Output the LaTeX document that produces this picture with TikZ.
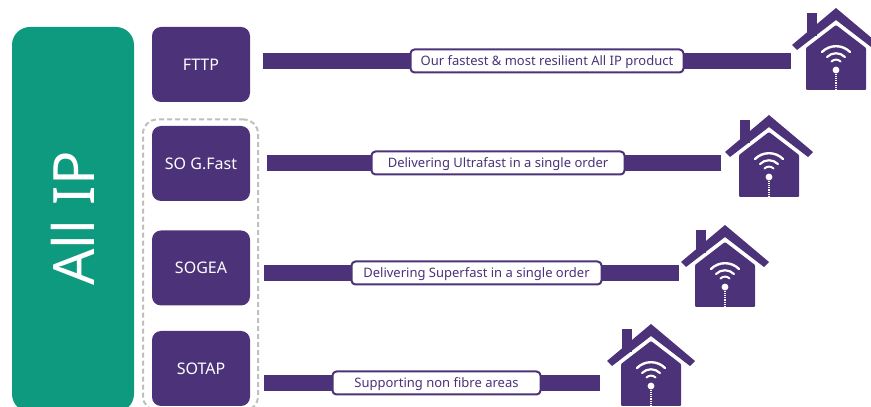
\documentclass[tikz,border=0pt]{standalone}
\usepackage{fontspec}
\setmainfont{Noto Sans}
\definecolor{bandgreen}{HTML}{0E9A7E}
\definecolor{bandpurple}{HTML}{4C3278}
\tikzset{
  prodbox/.style={fill=bandpurple,text=white,rounded corners=9,minimum width=98,minimum height=75,inner sep=0,text height=12,text depth=0,font=\fontsize{16}{16}\selectfont},
  tagbox/.style={draw=bandpurple,fill=white,line width=2pt,rounded corners=4,inner sep=0,text=bandpurple,minimum height=23,text height=9,text depth=0,font=\fontsize{13}{13}\selectfont},
  barline/.style={bandpurple,line width=16},
  homeicon/.pic={
    \fill[bandpurple] (-29,-28) rectangle (-19,-5);
    \fill[bandpurple] (-44,-37) -- (0,0) -- (44,-37) -- (39,-42) -- (0,-12) -- (-39,-42) -- cycle;
    \fill[bandpurple,rounded corners=1] (-30,-40) -- (0,-17) -- (30,-40) -- (30,-82) -- (-30,-82) -- cycle;
    \draw[white,line width=2.4,line cap=round] (-14,-44) arc (135:45:19.8);
    \draw[white,line width=2.2,line cap=round] (-9,-49) arc (135:45:12.7);
    \draw[white,line width=2,line cap=round] (-4.5,-53.5) arc (135:45:6.4);
    \fill[white] (0,-62) circle (3.4);
    \draw[white,line width=1.1,densely dotted] (0,-64) -- (0,-82);
  }
}
\begin{document}
\begin{tikzpicture}[x=1pt,y=1pt]
  \useasboundingbox (0,0) rectangle (871,407);
  \clip (0,0) rectangle (871,407);

  % left band
  \node (allip) at (73,187.5) [fill=bandgreen,rounded corners=18,minimum width=122,minimum height=385,inner sep=0] {};
  \node (alliptext) at (73,188.5) [rotate=90,text=white,font=\fontsize{57}{57}\selectfont] {All IP};
  \node (sogroup) at (200.5,142) [draw=black!25,dash pattern=on 5pt off 3pt,line width=2pt,rounded corners=14,minimum width=115,minimum height=291,inner sep=0] {};

  % products
  \node[prodbox] (fttp) at (201,342.5) {FTTP};
  \node[prodbox] (gfast) at (201,243.5) {SO G.Fast};
  \node[prodbox] (sogea) at (201,139) {SOGEA};
  \node[prodbox] (sotap) at (201,38.5) {SOTAP};

  % ends of the bars
  \coordinate (fttpend) at (791,346);
  \coordinate (gfastend) at (721,244);
  \coordinate (sogeaend) at (679,134);
  \coordinate (sotapend) at (600,24);

  \draw[barline] ([xshift=13]fttp.east |- fttpend) -- (fttpend);
  \draw[barline] ([xshift=17]gfast.east |- gfastend) -- (gfastend);
  \draw[barline] ([xshift=14]sogea.east |- sogeaend) -- (sogeaend);
  \draw[barline] ([xshift=14]sotap.east |- sotapend) -- (sotapend);

  \node[tagbox,minimum width=273] (fttptag) at (547,346) {Our fastest \& most resilient All IP product};
  \node[tagbox,minimum width=253] (gfasttag) at (498,244) {Delivering Ultrafast in a single order};
  \node[tagbox,minimum width=250] (sogeatag) at (476.5,134) {Delivering Superfast in a single order};
  \node[tagbox,minimum width=208] (sotaptag) at (436.5,24) {Supporting non fibre areas};

  % houses
  \pic at (836,399) {homeicon};
  \pic at (769,292) {homeicon};
  \pic at (725,182) {homeicon};
  \pic at (651,83) {homeicon};
\end{tikzpicture}
\end{document}
